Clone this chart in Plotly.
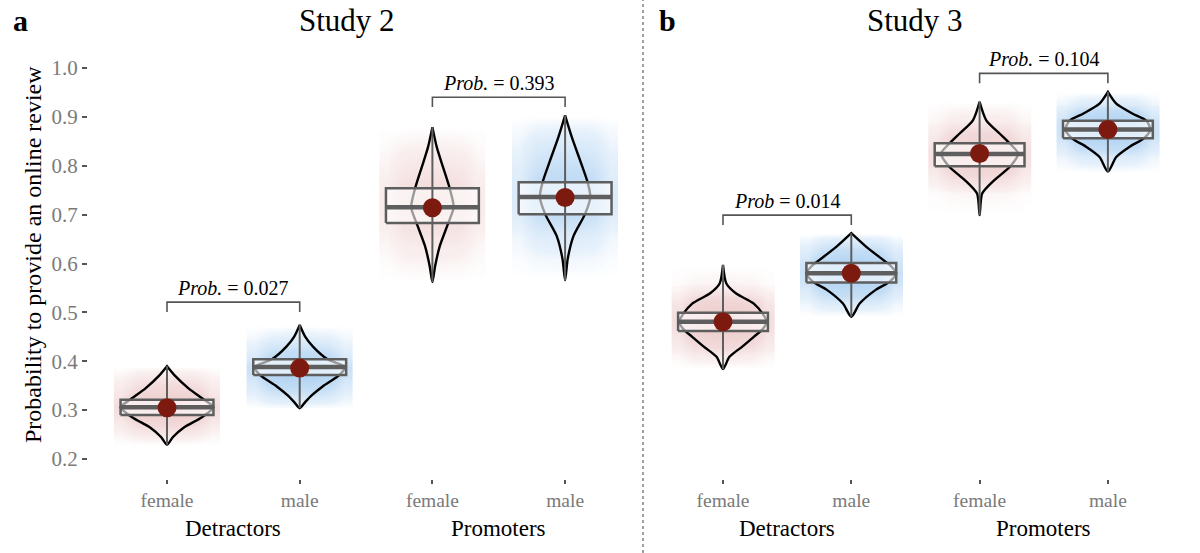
import plotly.graph_objects as go

W, H = 1200, 553
SERIF = "Liberation Serif, Times New Roman, serif"

# ---------------- data ----------------
tick_labels = ["female", "male", "female", "male"]
group_labels = ["Detractors", "Promoters"]
study_titles = ["Study 2", "Study 3"]
panel_letters = ["a", "b"]
y_title = "Probability to provide an online review"

# box summaries (q1, median, q3) and posterior means
s2_q1 = [0.290, 0.372, 0.683, 0.701]
s2_med = [0.306, 0.388, 0.715, 0.736]
s2_q3 = [0.321, 0.404, 0.754, 0.766]
s2_mean = [0.305, 0.386, 0.714, 0.735]

s3_q1 = [0.462, 0.561, 0.799, 0.856]
s3_med = [0.481, 0.580, 0.824, 0.874]
s3_q3 = [0.499, 0.601, 0.846, 0.892]
s3_mean = [0.481, 0.580, 0.825, 0.874]

# violin outlines: y levels and half-widths (category units)
s2_violin_y = [
    [0.229, 0.245, 0.265, 0.285, 0.306, 0.321, 0.345, 0.369, 0.390],
    [0.304, 0.316, 0.330, 0.349, 0.372, 0.388, 0.404, 0.430, 0.451, 0.474],
    [0.562, 0.594, 0.635, 0.683, 0.715, 0.754, 0.797, 0.838, 0.879],
    [0.566, 0.610, 0.656, 0.701, 0.736, 0.766, 0.811, 0.859, 0.903],
]
s2_violin_w = [
    [0.0, 0.045, 0.13, 0.26, 0.35, 0.28, 0.16, 0.065, 0.0],
    [0.0, 0.04, 0.09, 0.175, 0.30, 0.34, 0.21, 0.10, 0.04, 0.0],
    [0.0, 0.02, 0.055, 0.12, 0.16, 0.13, 0.08, 0.033, 0.0],
    [0.0, 0.02, 0.063, 0.15, 0.19, 0.17, 0.113, 0.05, 0.0],
]
s3_violin_y = [
    [0.384, 0.409, 0.430, 0.450, 0.466, 0.481, 0.497, 0.518, 0.539, 0.559, 0.597],
    [0.491, 0.518, 0.546, 0.563, 0.580, 0.597, 0.607, 0.634, 0.662],
    [0.699, 0.743, 0.771, 0.799, 0.825, 0.846, 0.866, 0.893, 0.931],
    [0.788, 0.818, 0.839, 0.856, 0.874, 0.892, 0.907, 0.927, 0.951],
]
s3_violin_w = [
    [0.0, 0.05, 0.15, 0.24, 0.31, 0.34, 0.31, 0.24, 0.10, 0.026, 0.0],
    [0.0, 0.065, 0.19, 0.30, 0.35, 0.30, 0.25, 0.117, 0.0],
    [0.0, 0.02, 0.117, 0.24, 0.30, 0.234, 0.156, 0.052, 0.0],
    [0.0, 0.065, 0.17, 0.28, 0.33, 0.30, 0.19, 0.065, 0.0],
]

# pairwise comparisons: (left, right) category, bracket height, label
s2_pairs = [(0, 1), (2, 3)]
s2_bracket_y = [0.521, 0.940]
s2_prob = ["<i>Prob.</i> = 0.027", "<i>Prob.</i> = 0.393"]
s3_pairs = [(0, 1), (2, 3)]
s3_bracket_y = [0.699, 0.989]
s3_prob = ["<i>Prob</i> = 0.014", "<i>Prob.</i> = 0.104"]

# ---------------- styles ----------------
PINK = "215,140,140"
BLUE = "70,150,225"
cloud_colors = [PINK, BLUE, PINK, BLUE]
BOX_HALF = 0.35
CLOUD_OFFS = [-0.34, -0.22, -0.08, 0.08, 0.22, 0.34]
CLOUD_FADE = [0.35, 0.85, 1.0, 1.0, 0.85, 0.35]
GRAY = "#5e5e5e"
DOT = "#7d1a10"

studies = [
    dict(q1=s2_q1, med=s2_med, q3=s2_q3, mean=s2_mean, vy=s2_violin_y, vw=s2_violin_w,
         pairs=s2_pairs, by=s2_bracket_y, prob=s2_prob, xa="x", ya="y"),
    dict(q1=s3_q1, med=s3_med, q3=s3_q3, mean=s3_mean, vy=s3_violin_y, vw=s3_violin_w,
         pairs=s3_pairs, by=s3_bracket_y, prob=s3_prob, xa="x2", ya="y2"),
]

fig = go.Figure()

for st in studies:
    xa, ya = st["xa"], st["ya"]
    # jittered-sample clouds (density shading)
    for i in range(4):
        col = cloud_colors[i]
        fig.add_trace(go.Heatmap(
            x=[i + o for o in CLOUD_OFFS], y=st["vy"][i],
            z=[[w * f for f in CLOUD_FADE] for w in st["vw"][i]], zmin=0, zmax=0.35,
            zsmooth="best",
            colorscale=[[0, f"rgba({col},0)"], [0.1, f"rgba({col},0.14)"],
                        [0.4, f"rgba({col},0.32)"], [1, f"rgba({col},0.45)"]],
            showscale=False, hoverinfo="skip", xaxis=xa, yaxis=ya))
    for i in range(4):
        vy, vw = st["vy"][i], st["vw"][i]
        # violin outline
        xs = [i + w for w in vw] + [i - w for w in reversed(vw)]
        ys = list(vy) + list(reversed(vy))
        fig.add_trace(go.Scatter(x=xs, y=ys, mode="lines",
                                 line=dict(color="black", width=2.4, shape="spline", smoothing=0.7),
                                 hoverinfo="skip", showlegend=False, xaxis=xa, yaxis=ya))
        # box
        q1, q3 = st["q1"][i], st["q3"][i]
        fig.add_trace(go.Scatter(
            x=[i - BOX_HALF, i + BOX_HALF, i + BOX_HALF, i - BOX_HALF, i - BOX_HALF],
            y=[q1, q1, q3, q3, q1], mode="lines", fill="toself",
            fillcolor="rgba(255,255,255,0.6)", line=dict(color=GRAY, width=2.5),
            hoverinfo="skip", showlegend=False, xaxis=xa, yaxis=ya))
        # whisker
        fig.add_trace(go.Scatter(x=[i, i], y=[vy[0], vy[-1]], mode="lines",
                                 line=dict(color=GRAY, width=2), hoverinfo="skip",
                                 showlegend=False, xaxis=xa, yaxis=ya))
        # median
        fig.add_trace(go.Scatter(x=[i - BOX_HALF, i + BOX_HALF], y=[st["med"][i]] * 2,
                                 mode="lines", line=dict(color=GRAY, width=4.5),
                                 hoverinfo="skip", showlegend=False, xaxis=xa, yaxis=ya))
    # means
    fig.add_trace(go.Scatter(x=[0, 1, 2, 3], y=st["mean"], mode="markers",
                             marker=dict(color=DOT, size=19), hoverinfo="skip",
                             showlegend=False, xaxis=xa, yaxis=ya))
    # brackets
    for (a, b), yb in zip(st["pairs"], st["by"]):
        fig.add_trace(go.Scatter(x=[a, a, b, b], y=[yb - 0.02, yb, yb, yb - 0.02],
                                 mode="lines", line=dict(color="#555555", width=1.6),
                                 hoverinfo="skip", showlegend=False, xaxis=xa, yaxis=ya))

# ---------------- layout ----------------
top_px, bot_px = 45, 479
y_dom = [1 - bot_px / H, 1 - top_px / H]
y_range = [0.2 - (bot_px - 459) / 489, 1.0 + (68 - top_px) / 489]

def px(v):
    return v / W

def py(v):
    return 1 - v / H

left_dom = [px(88), px(640)]
right_dom = [px(646), px(1195)]
sp_l = 132.7
sp_r = 128.3
l_r0 = -(167 - 88) / sp_l
l_range = [l_r0, l_r0 + (640 - 88) / sp_l]
r_r0 = -(723 - 646) / sp_r
r_range = [r_r0, r_r0 + (1195 - 646) / sp_r]

xcommon = dict(tickvals=[0, 1, 2, 3], ticktext=tick_labels, ticks="outside", ticklen=4,
               tickwidth=2, tickcolor="#555555", showline=False, showgrid=False,
               zeroline=False, automargin=False,
               tickfont=dict(family=SERIF, size=19.5, color="#7a7a7a"))

fig.update_layout(
    width=W, height=H, margin=dict(l=0, r=0, t=0, b=0, pad=0, autoexpand=False),
    paper_bgcolor="white", plot_bgcolor="white", showlegend=False,
    xaxis=dict(domain=left_dom, range=l_range, anchor="y", **xcommon),
    xaxis2=dict(domain=right_dom, range=r_range, anchor="y2", **xcommon),
    yaxis=dict(domain=y_dom, range=y_range, anchor="x", dtick=0.1, tick0=0, tickformat=".1f",
               ticks="outside", ticklen=5, tickwidth=2, tickcolor="#555555",
               showline=False, showgrid=False, zeroline=False, automargin=False,
               tickfont=dict(family=SERIF, size=21, color="#7a7a7a")),
    yaxis2=dict(domain=y_dom, range=y_range, anchor="x2", matches="y", showticklabels=False,
                ticks="", showline=False, showgrid=False, zeroline=False, automargin=False),
)

ann = []
ann.append(dict(text=y_title, x=px(33), y=py(255), xref="paper", yref="paper",
                xanchor="center", yanchor="middle", textangle=-90, showarrow=False,
                font=dict(family=SERIF, size=24, color="black")))
for title, letter, xc, xl in zip(study_titles, panel_letters, [347, 915], [20, 667]):
    ann.append(dict(text=title, x=px(xc), y=py(20), xref="paper", yref="paper",
                    xanchor="center", yanchor="middle", showarrow=False,
                    font=dict(family=SERIF, size=31, color="black")))
    ann.append(dict(text=f"<b>{letter}</b>", x=px(xl), y=py(20), xref="paper", yref="paper",
                    xanchor="center", yanchor="middle", showarrow=False,
                    font=dict(family=SERIF, size=30, color="black")))
for xa in ["x", "x2"]:
    for g, xc in zip(group_labels, [0.5, 2.5]):
        ann.append(dict(text=g, x=xc, y=py(528), xref=xa, yref="paper",
                        xanchor="center", yanchor="middle", showarrow=False,
                        font=dict(family=SERIF, size=23, color="black")))
for st in studies:
    for (a, b), yb, t in zip(st["pairs"], st["by"], st["prob"]):
        ann.append(dict(text=t, x=(a + b) / 2, y=yb + 0.002, xref=st["xa"], yref=st["ya"],
                        xanchor="center", yanchor="bottom", showarrow=False,
                        font=dict(family=SERIF, size=20, color="black")))
fig.update_layout(annotations=ann)

fig.add_shape(type="line", x0=px(643), x1=px(643), y0=0, y1=1, xref="paper", yref="paper",
              line=dict(color="#444444", width=1, dash="dot"))

fig.write_html("out.html", config={"displayModeBar": False},
               post_script="document.body.style.margin='0';document.body.style.overflow='hidden';")
